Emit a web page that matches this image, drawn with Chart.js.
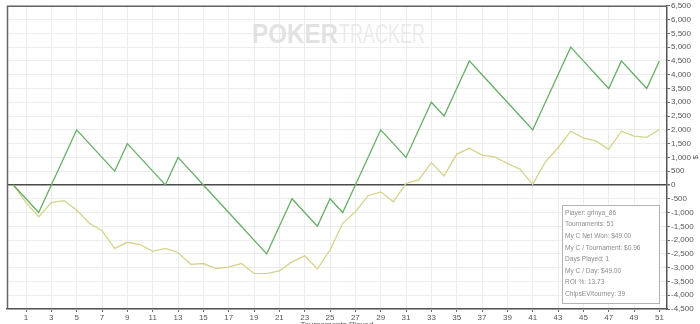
<!DOCTYPE html>
<html>
<head>
<meta charset="utf-8">
<script src="https://cdn.jsdelivr.net/npm/chart.js@4.4.0/dist/chart.umd.min.js"></script>
<style>
html, body { margin: 0; padding: 0; background: #fff; }
canvas { display: block; }
</style>
</head>
<body>
<canvas id="chartCanvas" width="700" height="324"></canvas>
<script>
// tournaments played (x), starting at 0
const tournaments = [0, 1, 2, 3, 4, 5, 6, 7, 8, 9, 10, 11, 12, 13, 14, 15, 16, 17, 18, 19, 20,
    21, 22, 23, 24, 25, 26, 27, 28, 29, 30, 31, 32, 33, 34, 35, 36, 37, 38, 39, 40,
    41, 42, 43, 44, 45, 46, 47, 48, 49, 50, 51];

// green line
const netWon = [0, -500, -1000, 0, 1000, 2000, 1500, 1000, 500, 1500, 1000, 500, 0, 1000,
    500, 0, -500, -1000, -1500, -2000, -2500, -1500, -500, -1000, -1500, -500, -1000, 0,
    1000, 2000, 1500, 1000, 2000, 3000, 2500, 3500, 4500, 4000, 3500, 3000, 2500, 2000,
    3000, 4000, 5000, 4500, 4000, 3500, 4500, 4000, 3500, 4500];

// yellow line
const chipsEV = [0, -640, -1150, -640, -570, -910, -1390, -1660, -2300, -2080, -2160, -2410,
    -2300, -2450, -2880, -2850, -3030, -2980, -2850, -3210, -3220, -3120, -2790, -2570,
    -3050, -2360, -1390, -970, -390, -250, -610, 60, 180, 810, 330, 1120, 1330, 1080, 1020,
    780, 570, 20, 840, 1350, 1950, 1710, 1590, 1290, 1950, 1770, 1730, 2010];

const xTicks = [1, 3, 5, 7, 9, 11, 13, 15, 17, 19, 21, 23, 25, 27, 29, 31, 33, 35, 37, 39,
    41, 43, 45, 47, 49, 51];

const infoLines = [
    'Player: grinya_86',
    'Tournaments: 51',
    'My C Net Won: $49.00',
    'My C / Tournament: $0.96',
    'Days Played: 1',
    'My C / Day: $49.00',
    'ROI %: 13.73',
    'ChipsEV/tourney: 39'
];

const FONT = '"Liberation Sans", Arial, sans-serif';

const toPoints = (ys) => tournaments.map((x, i) => ({ x: x, y: ys[i] }));

const extras = {
    id: 'extras',
    beforeDraw(chart) {
        const c = chart.ctx;
        c.save();
        c.fillStyle = '#fff';
        c.fillRect(0, 0, chart.width, chart.height);
        c.restore();
    },
    beforeDatasetsDraw(chart) {
        const c = chart.ctx, a = chart.chartArea;
        c.save();
        // watermark
        c.textBaseline = 'alphabetic';
        c.fillStyle = '#e2e2e2';
        c.font = 'bold 27px ' + FONT;
        let w = c.measureText('POKER').width;
        c.save();
        c.translate(252, 43);
        c.scale(86 / w, 1);
        c.fillText('POKER', 0, 0);
        c.restore();
        c.fillStyle = '#ebebeb';
        c.font = '27px ' + FONT;
        w = c.measureText('TRACKER').width;
        c.save();
        c.translate(339, 43);
        c.scale(86 / w, 1);
        c.fillText('TRACKER', 0, 0);
        c.restore();
        // top and left border
        c.strokeStyle = '#666';
        c.lineWidth = 1.5;
        c.beginPath();
        c.moveTo(a.left + 0.5, a.bottom);
        c.lineTo(a.left + 0.5, a.top + 0.5);
        c.lineTo(a.right, a.top + 0.5);
        c.stroke();
        c.restore();
    },
    afterDraw(chart) {
        const c = chart.ctx, a = chart.chartArea;
        c.save();
        // info box
        c.fillStyle = '#fff';
        c.fillRect(562, 205, 97, 98);
        c.strokeStyle = '#b4b4b4';
        c.lineWidth = 1;
        c.strokeRect(562.5, 205.5, 97, 98);
        c.fillStyle = '#8c8c8c';
        c.font = '8px ' + FONT;
        c.textBaseline = 'middle';
        infoLines.forEach((t, i) => {
            c.save();
            c.translate(565, 212.5 + i * 11.6);
            c.scale(0.82, 1);
            c.fillText(t, 0, 0);
            c.restore();
        });
        // axis titles
        c.fillStyle = '#555';
        c.font = '8px ' + FONT;
        c.textAlign = 'center';
        c.textBaseline = 'top';
        c.fillText('Tournaments Played', (a.left + a.right) / 2, 321);
        c.translate(696, (a.top + a.bottom) / 2);
        c.rotate(-Math.PI / 2);
        c.textBaseline = 'middle';
        c.fillText('$', 0, 0);
        c.restore();
    }
};

const ctx = document.getElementById('chartCanvas').getContext('2d');

const chart = new Chart(ctx, {
    type: 'line',
    data: {
        datasets: [
            {
                label: 'Net Won',
                data: toPoints(netWon),
                borderColor: '#68ad68',
                borderWidth: 1.3,
                pointRadius: 0,
                tension: 0
            },
            {
                label: 'ChipsEV',
                data: toPoints(chipsEV),
                borderColor: '#d5d28c',
                borderWidth: 1.3,
                pointRadius: 0,
                tension: 0
            }
        ]
    },
    options: {
        responsive: false,
        animation: false,
        devicePixelRatio: 1,
        layout: { padding: { left: 7, top: 5, right: 0, bottom: 0 } },
        plugins: {
            legend: { display: false },
            tooltip: { enabled: false }
        },
        scales: {
            x: {
                type: 'linear',
                min: -0.5,
                max: 51.6,
                afterBuildTicks: (s) => { s.ticks = xTicks.map(v => ({ value: v })); },
                afterFit: (s) => { s.height = 15; },
                grid: { color: '#ececec', tickColor: '#666', tickLength: 3 },
                border: { color: '#555', width: 1.5 },
                ticks: {
                    autoSkip: false,
                    maxRotation: 0,
                    padding: 1,
                    color: '#555',
                    font: { family: FONT, size: 8 },
                    callback: (v) => String(v)
                }
            },
            y: {
                position: 'right',
                min: -4500,
                max: 6500,
                afterFit: (s) => { s.width = 33; },
                grid: {
                    color: (c) => c.tick && c.tick.value === 0 ? '#4a4a4a' : '#ececec',
                    lineWidth: (c) => c.tick && c.tick.value === 0 ? 1.5 : 1,
                    tickColor: '#666',
                    tickLength: 3
                },
                border: { color: '#555', width: 1.5 },
                ticks: {
                    stepSize: 500,
                    padding: 1,
                    color: '#555',
                    font: { family: FONT, size: 8 },
                    callback: (v) => v.toLocaleString('en-US')
                }
            }
        }
    },
    plugins: [extras]
});
</script>
</body>
</html>
